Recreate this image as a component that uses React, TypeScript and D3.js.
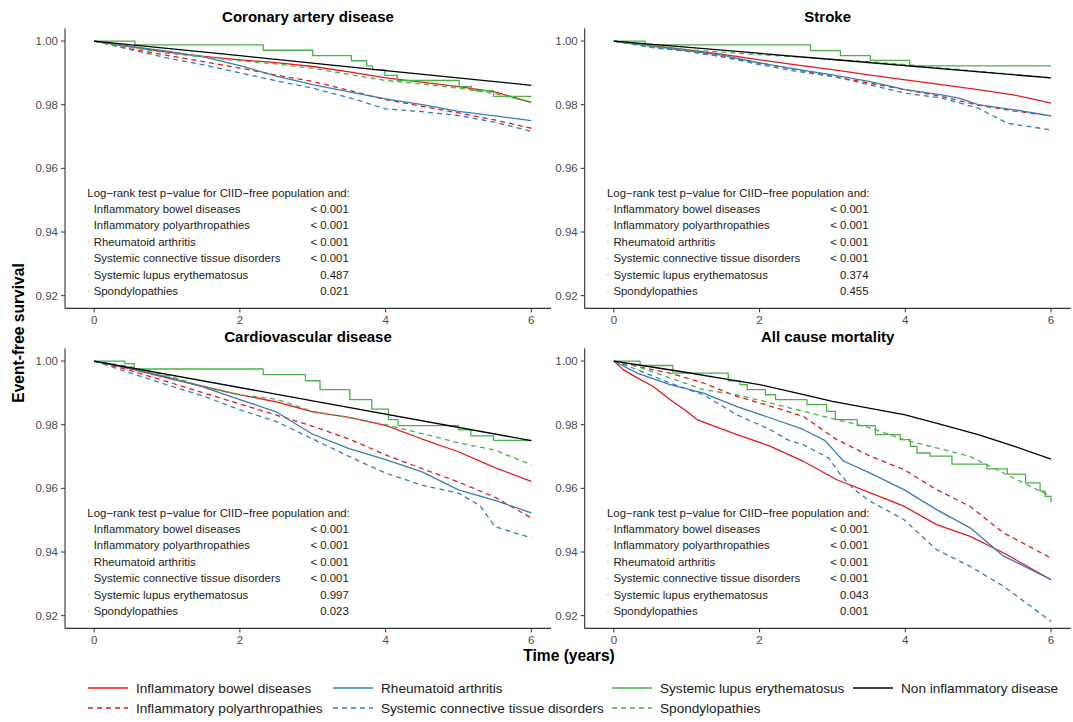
import React from 'react';
import * as d3 from 'd3';

// ---------- DATA ----------
const timeTicks = [0, 2, 4, 6];
const survTicks = [0.92, 0.94, 0.96, 0.98, 1.0];
const panelTitles = ['Coronary artery disease', 'Stroke', 'Cardiovascular disease', 'All cause mortality'];

const groupKeys = ['IBD', 'IP', 'RA', 'SCTD', 'SLE', 'SPONDY', 'NONE'];
const groupNames = [
  'Inflammatory bowel diseases',
  'Inflammatory polyarthropathies',
  'Rheumatoid arthritis',
  'Systemic connective tissue disorders',
  'Systemic lupus erythematosus',
  'Spondylopathies',
  'Non inflammatory disease',
];
const groupColors = ['#E41A1C', '#E41A1C', '#377EB8', '#377EB8', '#4DAF4A', '#4DAF4A', '#000000'];
const groupDashed = [false, true, false, true, false, true, false];
const groupStep = [false, false, false, false, true, false, false];

const pvalueLabels = groupNames.slice(0, 6);
const cadPvalues = ['< 0.001', '< 0.001', '< 0.001', '< 0.001', '0.487', '0.021'];
const strokePvalues = ['< 0.001', '< 0.001', '< 0.001', '< 0.001', '0.374', '0.455'];
const cvdPvalues = ['< 0.001', '< 0.001', '< 0.001', '< 0.001', '0.997', '0.023'];
const mortPvalues = ['< 0.001', '< 0.001', '< 0.001', '< 0.001', '0.043', '0.001'];

// Coronary artery disease
const cadIBD = [[0, 1], [0.5, 0.9982], [1, 0.9965], [1.5, 0.9952], [2, 0.9941], [2.5, 0.9932], [3, 0.992], [3.5, 0.9903], [4, 0.9884], [4.5, 0.9871], [5, 0.9857], [5.5, 0.984], [6, 0.9807]];
const cadIP = [[0, 1], [0.5, 0.9975], [1, 0.9955], [1.5, 0.9935], [2, 0.9915], [2.5, 0.9893], [3, 0.9873], [3.5, 0.9845], [4, 0.9816], [4.5, 0.9795], [5, 0.9774], [5.5, 0.9752], [6, 0.9726]];
const cadRA = [[0, 1], [0.5, 0.9983], [1, 0.9968], [1.5, 0.995], [2, 0.9923], [2.5, 0.989], [3, 0.9863], [3.5, 0.984], [4, 0.9818], [4.5, 0.98], [5, 0.9779], [5.5, 0.9765], [6, 0.975]];
const cadSCTD = [[0, 1], [0.5, 0.9973], [1, 0.9947], [1.5, 0.9925], [2, 0.99], [2.5, 0.9875], [3, 0.9852], [3.5, 0.9822], [4, 0.9787], [4.5, 0.9778], [5, 0.9766], [5.5, 0.9745], [6, 0.9716]];
const cadSLE = [[0, 1], [0.56, 0.9988], [2.32, 0.9971], [3.0, 0.9954], [3.53, 0.9938], [3.74, 0.9922], [3.82, 0.991], [3.99, 0.9892], [4.16, 0.9876], [5.01, 0.9857], [5.18, 0.9844], [5.48, 0.9826], [6, 0.9826]];
const cadSpondy = [[0, 1], [0.5, 0.998], [1, 0.9962], [1.5, 0.995], [2, 0.9938], [2.5, 0.9928], [3, 0.9914], [3.5, 0.9895], [4, 0.9876], [4.5, 0.9865], [5, 0.9852], [5.5, 0.9835], [6, 0.9807]];
const cadNone = [[0, 1], [2, 0.9954], [4, 0.9907], [6, 0.9861]];

// Stroke
const strokeIBD = [[0, 1], [0.5, 0.9986], [1, 0.9973], [1.5, 0.9958], [2, 0.9941], [2.5, 0.9925], [3, 0.991], [3.5, 0.9894], [4, 0.9878], [4.5, 0.9863], [5, 0.9847], [5.5, 0.983], [6, 0.9805]];
const strokeIP = [[0, 1], [0.5, 0.9982], [1, 0.9968], [1.5, 0.995], [2, 0.9931], [2.5, 0.991], [3, 0.9889], [3.5, 0.9868], [4, 0.9847], [4.5, 0.9826], [5, 0.9798], [5.5, 0.978], [6, 0.9765]];
const strokeRA = [[0, 1], [0.5, 0.9984], [1, 0.997], [1.5, 0.9955], [2, 0.9931], [2.5, 0.9912], [3, 0.9894], [3.5, 0.9873], [4, 0.9847], [4.5, 0.9831], [4.75, 0.982], [5, 0.98], [5.5, 0.9784], [6, 0.9765]];
const strokeSCTD = [[0, 1], [0.5, 0.998], [1, 0.9968], [1.5, 0.995], [2, 0.9926], [2.5, 0.9905], [3, 0.9889], [3.5, 0.9863], [4, 0.9836], [4.5, 0.9821], [5, 0.9789], [5.4, 0.9742], [5.5, 0.9738], [6, 0.9721]];
const strokeSLE = [[0, 1], [0.43, 0.9988], [2.7, 0.997], [3.11, 0.9954], [3.52, 0.9939], [4.06, 0.9922], [6, 0.9922]];
const strokeSpondy = [[0, 1], [0.5, 0.9985], [1, 0.9973], [1.5, 0.9965], [2, 0.9957], [2.5, 0.995], [3, 0.9943], [3.5, 0.9935], [4, 0.9926], [4.5, 0.9915], [5, 0.9905], [5.5, 0.9895], [5.95, 0.9886], [6, 0.9873]];
const strokeNone = [[0, 1], [3, 0.9942], [6, 0.9884]];

// Cardiovascular disease
const cvdIBD = [[0, 1], [0.5, 0.9975], [1, 0.9947], [1.5, 0.992], [2, 0.9894], [2.5, 0.9872], [3, 0.984], [3.5, 0.9823], [4, 0.9798], [4.5, 0.9755], [5, 0.9715], [5.5, 0.9665], [6, 0.9622]];
const cvdIP = [[0, 1], [0.5, 0.997], [1, 0.9935], [1.5, 0.99], [2, 0.9865], [2.5, 0.983], [3, 0.9795], [3.5, 0.9755], [4, 0.9705], [4.5, 0.9662], [5, 0.962], [5.5, 0.9572], [6, 0.9507]];
const cvdRA = [[0, 1], [0.5, 0.9977], [1, 0.995], [1.5, 0.9918], [2, 0.9879], [2.5, 0.984], [3, 0.977], [3.5, 0.9725], [4, 0.969], [4.5, 0.9652], [5, 0.9595], [5.5, 0.9562], [6, 0.9523]];
const cvdSCTD = [[0, 1], [0.5, 0.9962], [1, 0.9925], [1.5, 0.989], [2, 0.9847], [2.5, 0.981], [3, 0.9755], [3.5, 0.97], [4, 0.9648], [4.5, 0.961], [5, 0.9585], [5.3, 0.9545], [5.5, 0.948], [6, 0.9444]];
const cvdSLE = [[0, 1], [0.42, 0.9992], [0.55, 0.9975], [2.32, 0.9957], [2.9, 0.9938], [3.1, 0.991], [3.51, 0.9879], [3.81, 0.9849], [4.04, 0.9816], [4.17, 0.9797], [5.0, 0.9784], [5.17, 0.9765], [5.48, 0.9751], [6, 0.9751]];
const cvdSpondy = [[0, 1], [0.5, 0.9982], [1, 0.9955], [1.5, 0.992], [2, 0.9894], [2.5, 0.988], [3, 0.9842], [3.5, 0.9822], [4, 0.98], [4.5, 0.9772], [5, 0.9743], [5.5, 0.972], [6, 0.9674]];
const cvdNone = [[0, 1], [3, 0.9875], [6, 0.975]];

// All cause mortality
const mortIBD = [[0, 1], [0.13, 0.9973], [0.32, 0.9947], [0.54, 0.992], [0.77, 0.9879], [1.0, 0.9842], [1.14, 0.9816], [1.32, 0.98], [1.69, 0.9769], [2.15, 0.9732], [2.6, 0.9685], [3.06, 0.9627], [3.52, 0.9586], [3.98, 0.9544], [4.43, 0.9486], [4.89, 0.9449], [5.35, 0.9397], [6, 0.9313]];
const mortIP = [[0, 1], [0.32, 0.9983], [0.77, 0.9962], [1.23, 0.9931], [1.69, 0.9889], [2.15, 0.9858], [2.6, 0.9826], [3.06, 0.9753], [3.52, 0.9701], [3.98, 0.9659], [4.43, 0.9596], [4.89, 0.9543], [5.35, 0.946], [6, 0.9381]];
const mortRA = [[0, 1], [0.32, 0.9962], [0.77, 0.9926], [1.23, 0.9899], [1.69, 0.9857], [2.15, 0.9821], [2.6, 0.9785], [2.9, 0.975], [3.15, 0.9686], [3.52, 0.9648], [3.98, 0.9596], [4.43, 0.9533], [4.89, 0.9476], [5.35, 0.9387], [6, 0.9313]];
const mortSCTD = [[0, 1], [0.32, 0.9973], [0.77, 0.9931], [1.23, 0.9894], [1.69, 0.9831], [2.15, 0.9784], [2.38, 0.9753], [2.6, 0.9737], [2.95, 0.9695], [3.12, 0.964], [3.29, 0.9598], [3.52, 0.9559], [3.98, 0.9502], [4.43, 0.9407], [4.89, 0.9355], [5.35, 0.9292], [6, 0.9182]];
const mortSLE = [[0, 1], [0.36, 0.9986], [0.81, 0.9962], [1.57, 0.9938], [1.73, 0.9926], [1.83, 0.991], [2.08, 0.9894], [2.22, 0.9879], [2.65, 0.9863], [2.92, 0.9842], [3.04, 0.9816], [3.34, 0.9797], [3.59, 0.9769], [3.93, 0.9753], [4.07, 0.9732], [4.16, 0.9711], [4.34, 0.9701], [4.64, 0.9676], [5.12, 0.9661], [5.4, 0.9645], [5.65, 0.9617], [5.85, 0.9591], [5.92, 0.9575], [6, 0.9556]];
const mortSpondy = [[0, 1], [0.32, 0.9983], [0.77, 0.9947], [1.23, 0.991], [1.69, 0.9894], [2.15, 0.9868], [2.6, 0.9842], [3.06, 0.9816], [3.52, 0.979], [3.98, 0.9753], [4.43, 0.9727], [4.89, 0.97], [5.35, 0.9648], [5.81, 0.9596], [6, 0.9575]];
const mortNone = [[0, 1], [0.5, 0.9982], [1, 0.9964], [1.5, 0.9945], [2, 0.9926], [2.5, 0.99], [3, 0.9873], [3.5, 0.9852], [4, 0.9831], [4.5, 0.98], [5, 0.9769], [5.5, 0.9732], [6, 0.9692]];

const panelSeries = [
  [cadIBD, cadIP, cadRA, cadSCTD, cadSLE, cadSpondy, cadNone],
  [strokeIBD, strokeIP, strokeRA, strokeSCTD, strokeSLE, strokeSpondy, strokeNone],
  [cvdIBD, cvdIP, cvdRA, cvdSCTD, cvdSLE, cvdSpondy, cvdNone],
  [mortIBD, mortIP, mortRA, mortSCTD, mortSLE, mortSpondy, mortNone],
];
const panelPvalues = [cadPvalues, strokePvalues, cvdPvalues, mortPvalues];

// ---------- LAYOUT ----------
const W = 1073;
const H = 722;
const panelLeft = [65, 584.7];
const panelTop = [28.3, 348.3];
const panelW = 486;
const panelH = 280.1;
const FONT = '"Liberation Sans", Arial, Helvetica, sans-serif';

const legendPos = [[88, 0], [88, 1], [333, 0], [333, 1], [612, 0], [612, 1], [853, 0]];
const legendRowY = [688, 708];

function Panel({ idx }: { idx: number }) {
  const x0 = panelLeft[idx % 2];
  const y0 = panelTop[Math.floor(idx / 2)];
  const xScale = d3.scaleLinear().domain([-0.4, 6.27]).range([x0, x0 + panelW]);
  const yScale = d3.scaleLinear().domain([0.916, 1.004]).range([y0 + panelH, y0]);
  const bottom = y0 + panelH;
  const series = panelSeries[idx];
  const pv = panelPvalues[idx];

  const lineLinear = d3.line<number[]>().x((d) => xScale(d[0])).y((d) => yScale(d[1])).curve(d3.curveLinear);
  const lineStep = d3.line<number[]>().x((d) => xScale(d[0])).y((d) => yScale(d[1])).curve(d3.curveStepAfter);

  const annX = x0 + 22.3;
  const annY = y0 + 164.4;
  const rowH = 16.4;
  const valX = x0 + 283.8;

  return (
    <g>
      <text x={x0 + panelW / 2} y={y0 - 6.3} textAnchor="middle" fontFamily={FONT} fontWeight="bold" fontSize={15} fill="#000">
        {panelTitles[idx]}
      </text>
      {series.map((s, i) => (
        <path
          key={groupKeys[i]}
          d={(groupStep[i] ? lineStep : lineLinear)(s) || ''}
          fill="none"
          stroke={groupColors[i]}
          strokeWidth={1.3}
          strokeLinejoin="round"
          strokeDasharray={groupDashed[i] ? '5,4' : undefined}
        />
      ))}
      <line x1={x0} x2={x0} y1={y0} y2={bottom} stroke="#333" strokeWidth={1.1} />
      <line x1={x0} x2={x0 + panelW} y1={bottom} y2={bottom} stroke="#333" strokeWidth={1.1} />
      {survTicks.map((t) => (
        <g key={t}>
          <line x1={x0 - 4} x2={x0} y1={yScale(t)} y2={yScale(t)} stroke="#333" strokeWidth={1} />
          <text x={x0 - 7} y={yScale(t)} dy="0.36em" textAnchor="end" fontFamily={FONT} fontSize={11.5} fill="#4D4D4D">
            {t.toFixed(2)}
          </text>
        </g>
      ))}
      {timeTicks.map((t) => (
        <g key={t}>
          <line x1={xScale(t)} x2={xScale(t)} y1={bottom} y2={bottom + 4} stroke="#333" strokeWidth={1} />
          <text x={xScale(t)} y={bottom + 15.5} textAnchor="middle" fontFamily={FONT} fontSize={11.5} fill="#4D4D4D">
            {t}
          </text>
        </g>
      ))}
      <text x={annX} y={annY} dy="0.35em" fontFamily={FONT} fontSize={11.4} fill="#1a1a1a">
        Log−rank test p−value for CIID−free population and:
      </text>
      {pvalueLabels.map((lab, i) => (
        <g key={lab}>
          <circle cx={annX + 1} cy={annY + rowH * (i + 1)} r={0.6} fill="#999" />
          <text x={annX + 6.4} y={annY + rowH * (i + 1)} dy="0.35em" fontFamily={FONT} fontSize={11.4} fill="#1a1a1a">
            {lab}
          </text>
          <text x={valX} y={annY + rowH * (i + 1)} dy="0.35em" textAnchor="end" fontFamily={FONT} fontSize={11.4} fill="#1a1a1a">
            {pv[i]}
          </text>
        </g>
      ))}
    </g>
  );
}

export default function App() {
  return (
    <svg width={W} height={H} style={{ position: 'absolute', left: 0, top: 0, background: '#fff' }}>
      <rect x={0} y={0} width={W} height={H} fill="#fff" />
      {[0, 1, 2, 3].map((i) => (
        <Panel key={i} idx={i} />
      ))}
      <text
        transform="translate(24,333) rotate(-90)"
        textAnchor="middle"
        fontFamily={FONT}
        fontWeight="bold"
        fontSize={15.6}
        fill="#000"
      >
        Event-free survival
      </text>
      <text x={569} y={661} textAnchor="middle" fontFamily={FONT} fontWeight="bold" fontSize={15.6} fill="#000">
        Time (years)
      </text>
      {groupNames.map((name, i) => {
        const [lx, row] = legendPos[i];
        const ly = legendRowY[row];
        return (
          <g key={name}>
            <line
              x1={lx}
              x2={lx + 40}
              y1={ly}
              y2={ly}
              stroke={groupColors[i]}
              strokeWidth={1.3}
              strokeDasharray={groupDashed[i] ? '5,4' : undefined}
            />
            <text x={lx + 48} y={ly} dy="0.36em" fontFamily={FONT} fontSize={13.6} fill="#1a1a1a">
              {name}
            </text>
          </g>
        );
      })}
    </svg>
  );
}
